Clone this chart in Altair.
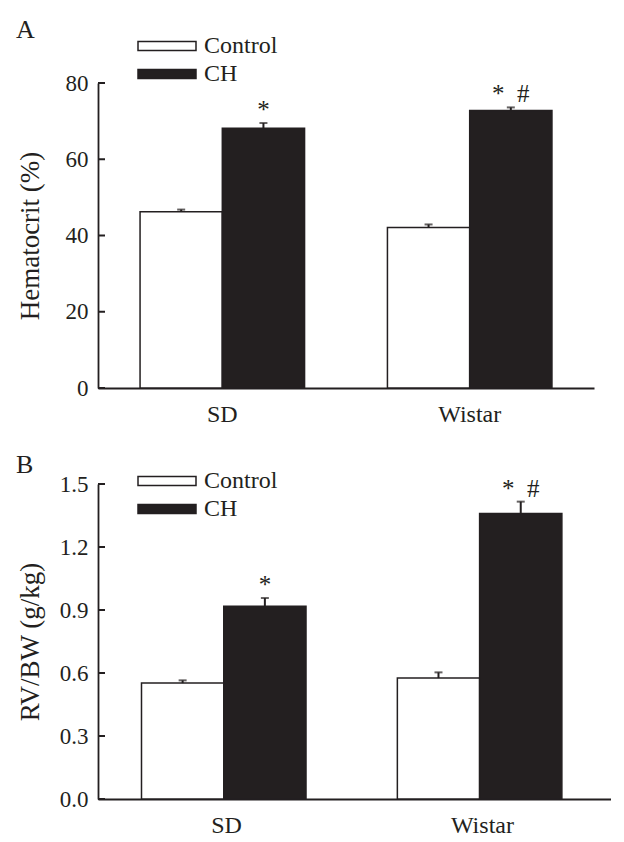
import altair as alt
import pandas as pd

groups = ["SD", "SD", "Wistar", "Wistar"]
series = ["Control", "CH", "Control", "CH"]
hct_mean = [46.2, 68.1, 42.1, 72.8]
hct_upper = [46.8, 69.5, 42.9, 73.6]
hct_marks = ["", "*", "", "*\u00a0\u00a0#"]
rv_mean = [0.552, 0.918, 0.576, 1.359]
rv_upper = [0.565, 0.957, 0.603, 1.416]
rv_marks = ["", "*", "", "*\u00a0\u00a0#"]
hct_ticks = [0, 20, 40, 60, 80]
rv_ticks = [0.0, 0.3, 0.6, 0.9, 1.2, 1.5]

INK = "#231f20"
FONT = "Liberation Serif"


def panel(letter, mean, upper, marks, ticks, ytitle, fmt, width, height, legend_y):
    df = pd.DataFrame({"group": groups, "series": series, "mean": mean,
                       "upper": upper, "mark": marks})
    tdf = pd.DataFrame({"t": ticks})
    yscale = alt.Scale(domain=[0, ticks[-1]], nice=False, zero=True)
    x = alt.X("group:N", sort=["SD", "Wistar"],
              scale=alt.Scale(paddingInner=0.335, paddingOuter=0.17),
              axis=alt.Axis(title=None, ticks=False, tickSize=0, labelAngle=0,
                            labelPadding=14, domainColor=INK, domainWidth=1.8,
                            labelFont=FONT, labelFontSize=24, labelColor=INK))
    xo = alt.XOffset("series:N", sort=["Control", "CH"],
                     scale=alt.Scale(paddingInner=0, paddingOuter=0))
    yaxis = alt.Axis(values=ticks, format=fmt, title=ytitle, ticks=False, tickSize=0,
                     grid=False, domainColor=INK, domainWidth=1.8,
                     labelFont=FONT, labelFontSize=23, labelColor=INK, labelPadding=10,
                     titleFont=FONT, titleFontSize=27, titleFontWeight="normal",
                     titleColor=INK, titleX=-68, titleY=height / 2,
                     titleBaseline="middle", titleAngle=270)
    bars = alt.Chart(df).mark_bar(stroke=INK, strokeWidth=1.5).encode(
        x=x, xOffset=xo,
        y=alt.Y("mean:Q", scale=yscale, axis=yaxis, title=ytitle),
        fill=alt.Fill("series:N",
                      scale=alt.Scale(domain=["Control", "CH"], range=["#ffffff", INK]),
                      legend=alt.Legend(title=None, orient="none", legendX=53.5,
                                        legendY=legend_y, direction="vertical",
                                        symbolType="M-2,-0.31H2V0.31H-2Z",
                                        symbolSize=841, symbolStrokeColor=INK,
                                        symbolStrokeWidth=1.5, symbolOpacity=1,
                                        labelFont=FONT, labelFontSize=24,
                                        labelColor=INK, labelOffset=21.5,
                                        rowPadding=0, padding=0)),
    )
    err = alt.Chart(df).mark_rule(color=INK, strokeWidth=2).encode(
        x=x, xOffset=xo,
        y=alt.Y("mean:Q", scale=yscale, title=ytitle), y2="upper:Q")
    cap = alt.Chart(df).mark_tick(color=INK, thickness=2, size=8,
                                  orient="horizontal").encode(
        x=x, xOffset=xo, y=alt.Y("upper:Q", scale=yscale, title=ytitle))
    txt = alt.Chart(df).mark_text(font=FONT, fontSize=25, baseline="alphabetic",
                                  dy=-5, color=INK).encode(
        x=x, xOffset=xo, y=alt.Y("upper:Q", scale=yscale, title=ytitle),
        text="mark:N")
    tick_rules = alt.Chart(tdf).mark_rule(color=INK, strokeWidth=2).encode(
        y=alt.Y("t:Q", scale=yscale, title=ytitle), x=alt.value(0), x2=alt.value(7))
    return alt.layer(bars, err, cap, txt, tick_rules).properties(
        width=width, height=height,
        title=alt.TitleParams(letter, anchor="start", frame="group", dx=-82,
                              fontSize=26, font=FONT, fontWeight="normal",
                              color=INK, offset=-12),
    )


a = panel("A", hct_mean, hct_upper, hct_marks, hct_ticks, "Hematocrit (%)", "d",
          496, 305, -52.5)
b = panel("B", rv_mean, rv_upper, rv_marks, rv_ticks, "RV/BW (g/kg)", ".1f",
          513, 315, -18.5)

chart = alt.vconcat(a, b, spacing=25).resolve_scale(
    fill="independent", x="independent", y="independent"
).resolve_legend(fill="independent").configure_view(stroke=None).properties(
    padding={"left": 8, "top": 8, "right": 0, "bottom": 0}
)

chart.save("out.html", embed_options={"renderer": "svg", "actions": False})
